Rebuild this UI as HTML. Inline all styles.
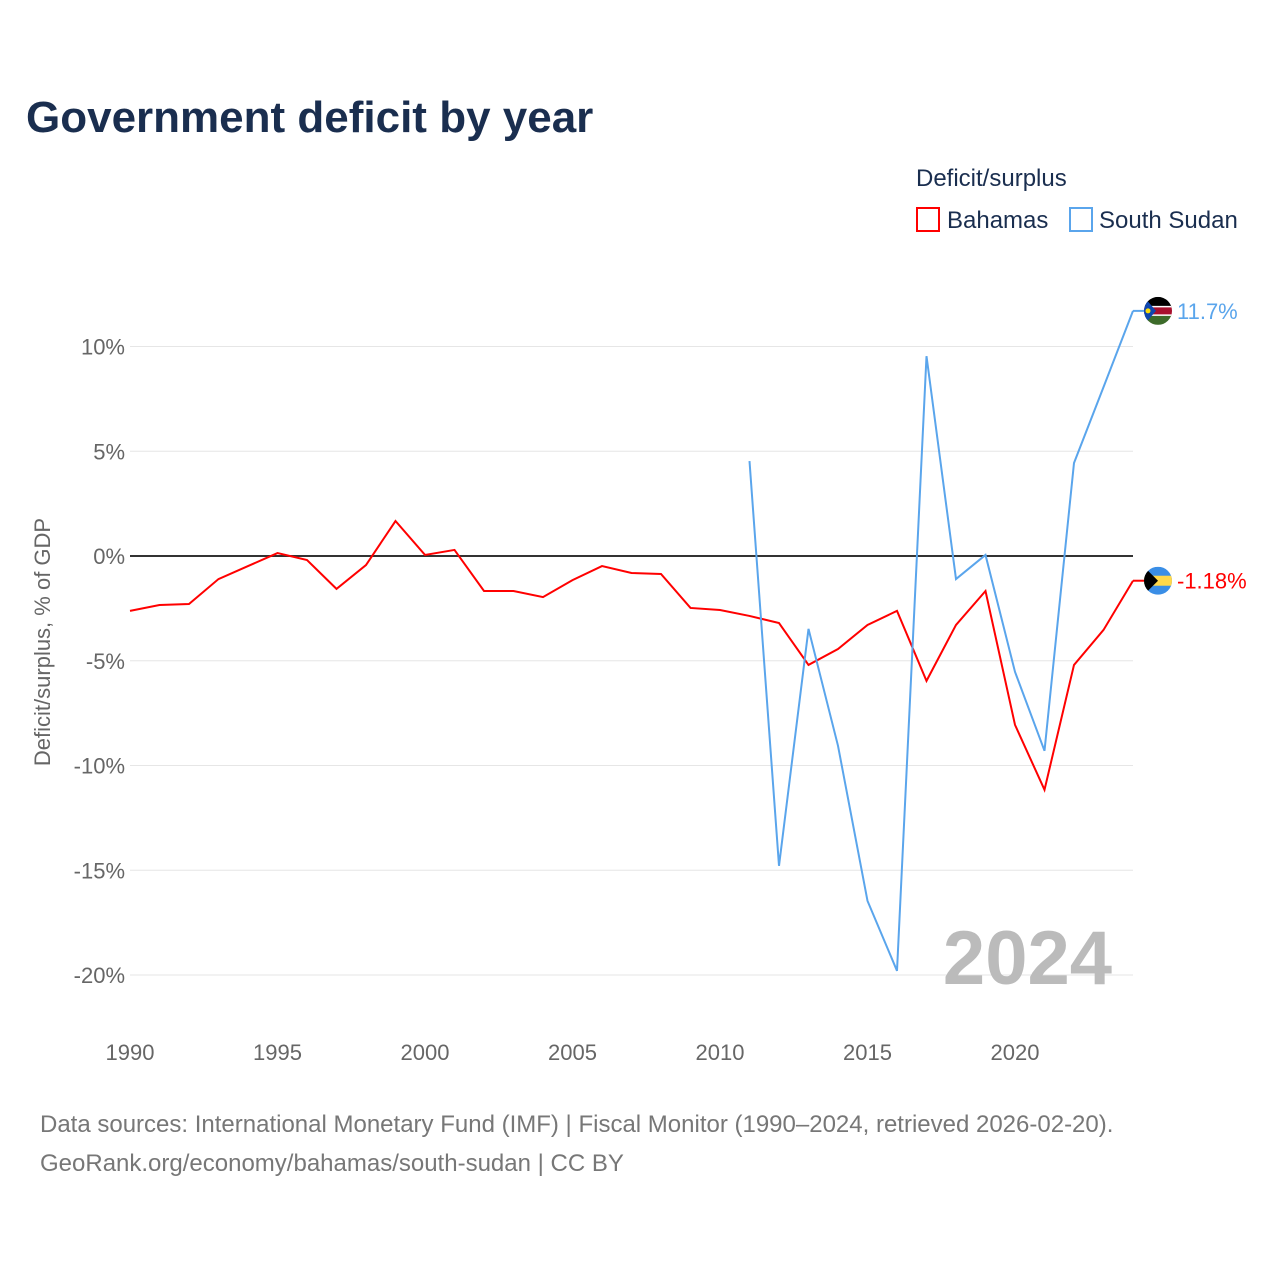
<!DOCTYPE html>
<html><head><meta charset="utf-8"><style>
body{margin:0;background:#fff;font-family:"Liberation Sans",sans-serif}
</style></head><body>
<svg id="chart" width="1280" height="1280" xmlns="http://www.w3.org/2000/svg">
<rect width="1280" height="1280" fill="#fff"/>
<text x="26" y="132" font-size="44" font-weight="bold" fill="#1a2e4f">Government deficit by year</text>
<text x="916" y="186" font-size="24" fill="#1a2e4f">Deficit/surplus</text>
<g><rect x="917" y="208" width="22" height="23" fill="none" stroke="#f00" stroke-width="2"/><text x="947" y="228" font-size="24" fill="#1a2e4f">Bahamas</text></g>
<g><rect x="1070" y="208" width="22" height="23" fill="none" stroke="#5aa5ec" stroke-width="2"/><text x="1099" y="228" font-size="24" fill="#1a2e4f">South Sudan</text></g>
<g id="grid"></g><g id="xt"></g><g id="series"></g>
<text transform="translate(50,642) rotate(-90)" text-anchor="middle" font-size="22" fill="#666">Deficit/surplus, % of GDP</text>
<text x="1112" y="984" text-anchor="end" font-size="76" font-weight="bold" fill="#bbb">2024</text>
<text x="40" y="1132" font-size="24" fill="#777">Data sources: International Monetary Fund (IMF) | Fiscal Monitor (1990–2024, retrieved 2026-02-20).</text>
<text x="40" y="1171" font-size="24" fill="#777">GeoRank.org/economy/bahamas/south-sudan | CC BY</text>
</svg>
<script>
const yTicks=[10,5,0,-5,-10,-15,-20];
const xTicks=[1990,1995,2000,2005,2010,2015,2020];
const bahamasYears=[1990,1991,1992,1993,1994,1995,1996,1997,1998,1999,2000,2001,2002,2003,2004,2005,2006,2007,2008,2009,2010,2011,2012,2013,2014,2015,2016,2017,2018,2019,2020,2021,2022,2023,2024];
const bahamasValues=[-2.62,-2.34,-2.29,-1.1,-0.48,0.14,-0.19,-1.57,-0.43,1.67,0.05,0.29,-1.67,-1.67,-1.96,-1.15,-0.48,-0.81,-0.86,-2.48,-2.58,-2.86,-3.2,-5.2,-4.44,-3.29,-2.62,-5.96,-3.29,-1.67,-8.06,-11.16,-5.2,-3.53,-1.18];
const ssudanYears=[2011,2012,2013,2014,2015,2016,2017,2018,2019,2020,2021,2022,2023,2024];
const ssudanValues=[4.53,-14.79,-3.48,-9.06,-16.46,-19.8,9.54,-1.1,0.05,-5.53,-9.3,4.44,8.06,11.7];
const NS="http://www.w3.org/2000/svg";
const X=y=>130+(y-1990)*(1133-130)/34;
const Y=v=>556-v*20.95;
function mk(t,a,p){const e=document.createElementNS(NS,t);for(const k in a)e.setAttribute(k,a[k]);p.appendChild(e);return e;}
const g=document.getElementById('grid');
yTicks.forEach(v=>{
 const l=mk('line',{x1:130,x2:1133,y1:Y(v),y2:Y(v),stroke:v===0?'#333':'#e6e6e6','stroke-width':v===0?2:1},g);
 
 
 const t=mk('text',{x:125,y:Y(v)+8,'text-anchor':'end','font-size':22,fill:'#666'},g);
 t.textContent=v+'%';
 
 
});
const xt=document.getElementById('xt');
xTicks.forEach(y=>{
 const t=mk('text',{x:X(y),y:1060,'text-anchor':'middle','font-size':22,fill:'#666'},xt);
 t.textContent=y;
 
 
});
const s=document.getElementById('series');
function line(ys,vs,c,name){
 const p=mk('polyline',{points:ys.map((y,i)=>X(y)+','+Y(vs[i])).join(' '),fill:'none',stroke:c,'stroke-width':2},s);
 
 
 const ly=Y(vs[vs.length-1]);
 mk('line',{x1:X(2024),x2:1145,y1:ly,y2:ly,stroke:c,'stroke-width':2},s);
 return ly;
}
const ly1=line(bahamasYears,bahamasValues,'#f00','bahamas-line');
const ly2=line(ssudanYears,ssudanValues,'#5aa5ec','south-sudan-line');
// flags
function flag(cy,type){
 const cx=1158;
 const grp=mk('g',{},s);
 
 
 const id='c'+type;
 const cp=mk('clipPath',{id:id},grp);mk('circle',{cx:cx,cy:cy,r:14},cp);
 const h=mk('g',{'clip-path':'url(#'+id+')'},grp);
 if(type==='bahamas'){
  mk('rect',{x:cx-14,y:cy-14,width:28,height:28,fill:'#3a8ee6'},h);
  mk('rect',{x:cx-14,y:cy-5,width:28,height:10,fill:'#ffd84a'},h);
  mk('polygon',{points:`${cx-14},${cy-14} ${cx},${cy} ${cx-14},${cy+14}`,fill:'#000'},h);
 }else{
  mk('rect',{x:cx-14,y:cy-14,width:28,height:10,fill:'#000'},h);
  mk('rect',{x:cx-14,y:cy-4,width:28,height:8,fill:'#a8102e'},h);
  mk('rect',{x:cx-14,y:cy+4,width:28,height:10,fill:'#3d6b2a'},h);
  mk('rect',{x:cx-14,y:cy-5,width:28,height:1.5,fill:'#fff'},h);
  mk('rect',{x:cx-14,y:cy+3.5,width:28,height:1.5,fill:'#fff'},h);
  mk('polygon',{points:`${cx-14},${cy-14} ${cx-2},${cy} ${cx-14},${cy+14}`,fill:'#0f47af'},h);
  mk('circle',{cx:cx-10,cy:cy,r:2.5,fill:'#fcdd09'},h);
 }
}
flag(ly1,'bahamas');flag(ly2,'south-sudan');
function lab(y,txt,c,name){const t=mk('text',{x:1177,y:y+8,'font-size':22,fill:c},s);t.textContent=txt;
 
 }
lab(ly1,bahamasValues[bahamasValues.length-1]+'%','#f00','bahamas-end-label');
lab(ly2,ssudanValues[ssudanValues.length-1]+'%','#5aa5ec','south-sudan-end-label');
</script>
</body></html>
